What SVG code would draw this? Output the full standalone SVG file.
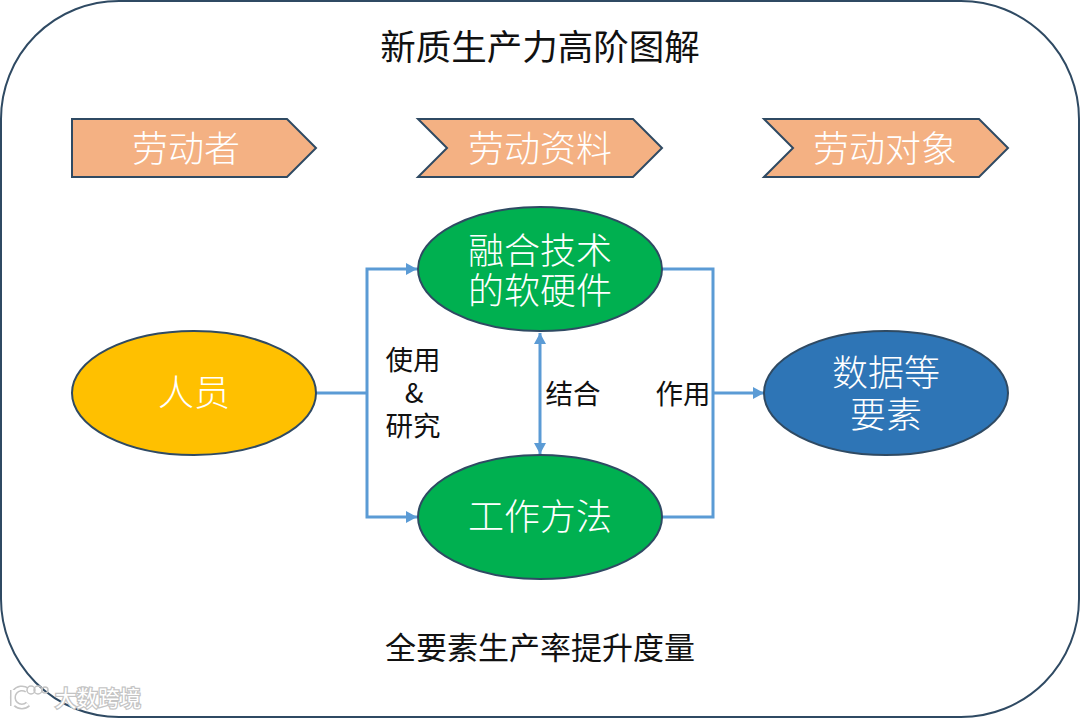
<svg xmlns="http://www.w3.org/2000/svg" width="1080" height="718" viewBox="0 0 1080 718">
<style>
text{font-family:"Noto Sans CJK SC","Liberation Sans",sans-serif;text-anchor:middle}
.s{stroke:#2f4a63;stroke-width:2}
.w{fill:#fff;font-size:36px;font-weight:300}
.b{fill:#111;font-size:27.5px}
.t{fill:#111;font-size:35.5px}
.f{fill:#111;font-size:31px}
.c{fill:none;stroke:#5b9bd5;stroke-width:3}
.cap{fill:#f4b183}
.wm{fill:#fff;stroke:#c4c4c4;stroke-width:2.5;font-size:21.5px;paint-order:stroke}
.lo{fill:none;stroke:#c4c4c4;stroke-width:6}
.li{fill:none;stroke:#fff;stroke-width:3}
.lt{fill:none;stroke:#c4c4c4;stroke-width:1.5}
</style>
<defs>
<marker id="a" markerUnits="userSpaceOnUse" markerWidth="14" markerHeight="14" refX="11" refY="6" orient="auto-start-reverse"><path d="M0 0L11 6L0 12Z" fill="#5b9bd5"/></marker>
</defs>
<rect width="1080" height="718" fill="#fff"/>
<g id="frame"><rect x="1" y="1" width="1078" height="716" rx="118" fill="#fff" class="s"/></g>
<g id="title"><text class="t" x="540" y="60">新质生产力高阶图解</text></g>
<g id="connectors">
<path class="c" d="M316 393H367"/>
<path class="c" marker-end="url(#a)" d="M367 393V269H417"/>
<path class="c" marker-end="url(#a)" d="M367 393V517H417"/>
<path class="c" marker-start="url(#a)" marker-end="url(#a)" d="M540 333V454"/>
<path class="c" d="M662 269H713V517H662"/>
<path class="c" marker-end="url(#a)" d="M713 393H764"/>
</g>
<g id="head1"><path class="s cap" d="M72 119H287L316 148L287 177H72Z"/><text class="w" x="186" y="162">劳动者</text></g>
<g id="head2"><path class="s cap" d="M418 119H633L662 148L633 177H418L447 148Z"/><text class="w" x="540" y="162">劳动资料</text></g>
<g id="head3"><path class="s cap" d="M764 119H979L1008 148L979 177H764L793 148Z"/><text class="w" x="885" y="162">劳动对象</text></g>
<g id="person"><ellipse cx="194" cy="393" rx="122" ry="62" fill="#ffc000" class="s"/><text class="w" x="194" y="406">人员</text></g>
<g id="software"><ellipse cx="540" cy="269" rx="122" ry="62" fill="#00b050" class="s"/><text class="w" x="540" y="264">融合技术<tspan x="540" dy="40">的软硬件</tspan></text></g>
<g id="method"><ellipse cx="540" cy="517" rx="122" ry="62" fill="#00b050" class="s"/><text class="w" x="540" y="530">工作方法</text></g>
<g id="data"><ellipse cx="886" cy="393" rx="122" ry="62" fill="#2e75b6" class="s"/><text class="w" x="886" y="386">数据等<tspan x="886" dy="42">要素</tspan></text></g>
<g id="labels">
<text class="b" x="413" y="370">使用<tspan x="414" dy="33">&amp;</tspan><tspan x="413" dy="33">研究</tspan></text>
<text class="b" x="573" y="404">结合</text>
<text class="b" x="683" y="404">作用</text>
<text class="f" x="540" y="659">全要素生产率提升度量</text>
</g>
<g id="watermark">
<path class="lo" d="M13 690V706M27 690A9 9 0 1 0 28 704"/>
<path class="li" d="M13 690V706M27 690A9 9 0 1 0 28 704"/>
<circle class="lt" cx="31" cy="690" r="4"/><circle class="lt" cx="38" cy="690" r="4"/><circle class="lt" cx="45" cy="690" r="3"/>
<text class="wm" x="98" y="706">大数跨境</text></g>
</svg>
